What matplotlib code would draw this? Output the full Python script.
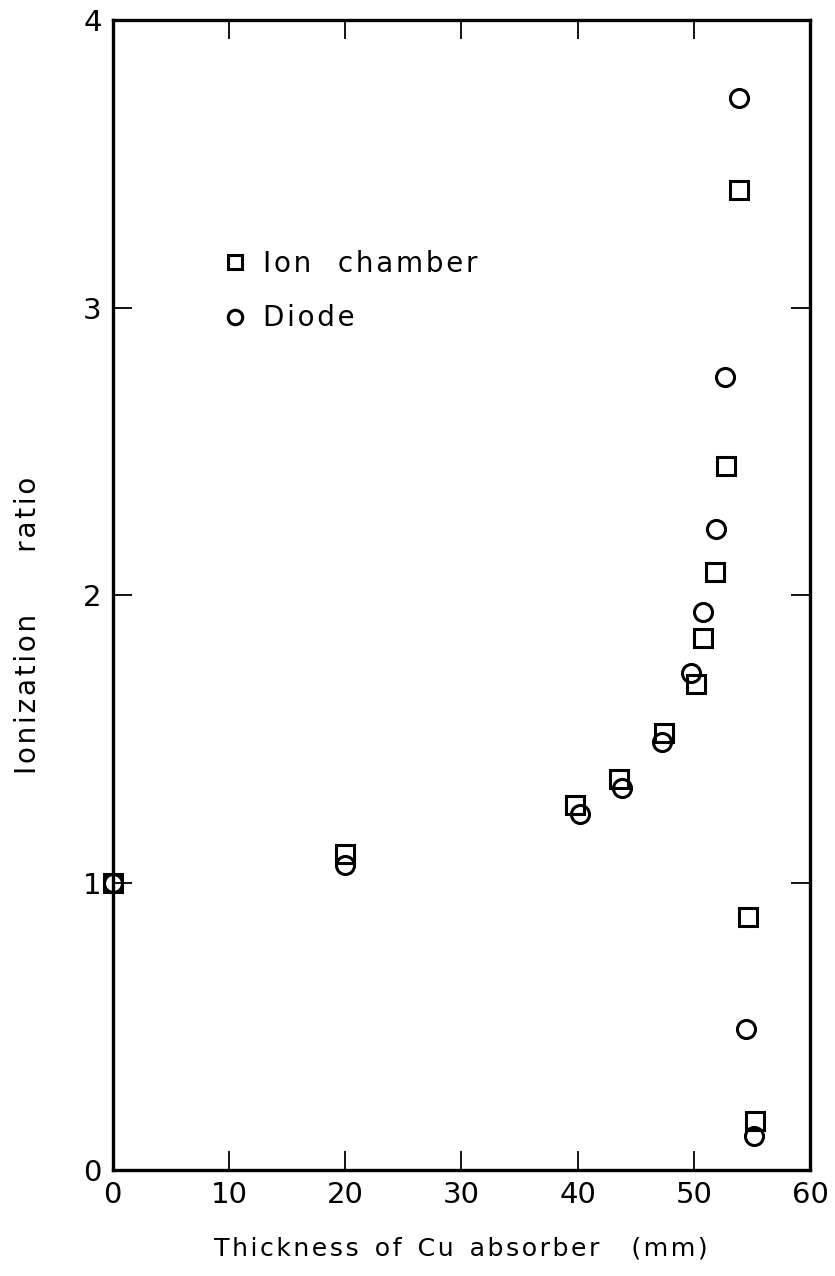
import numpy as np
import matplotlib
matplotlib.use("Agg")
import matplotlib.pyplot as plt

# Ion chamber (squares)
ion_x = [0, 20, 39.8, 43.6, 47.4, 50.2, 50.8, 51.8, 52.8, 53.9, 54.7, 55.3]
ion_y = [1.00, 1.10, 1.27, 1.36, 1.52, 1.69, 1.85, 2.08, 2.45, 3.41, 0.88, 0.17]

# Diode (circles)
diode_x = [0, 20, 40.2, 43.8, 47.3, 49.8, 50.8, 51.9, 52.7, 53.9, 54.5, 55.2]
diode_y = [1.00, 1.06, 1.24, 1.33, 1.49, 1.73, 1.94, 2.23, 2.76, 3.73, 0.49, 0.12]

xticks = [0, 10, 20, 30, 40, 50, 60]
yticks = [0, 1, 2, 3, 4]


def spaced(text, gap='  '):
    # wide letter spacing like the original lettering
    return gap.join('\u200a'.join(w) for w in text.split(' '))


plt.rcParams['font.family'] = ['DejaVu Sans']

fig = plt.figure(figsize=(8.35, 12.76), dpi=100)
ax = fig.add_axes([0.135, 0.083, 0.835, 0.901])

ms = 13
mew = 2.2
ax.plot(ion_x, ion_y, linestyle='none', marker='s', ms=ms, mfc='none',
        mec='black', mew=mew, label=spaced('Ion chamber', '   '), clip_on=False)
ax.plot(diode_x, diode_y, linestyle='none', marker='o', ms=ms, mfc='none',
        mec='black', mew=mew, label=spaced('Diode'), clip_on=False)

ax.set_xlim(0, 60)
ax.set_ylim(0, 4)
ax.set_xticks(xticks)
ax.set_yticks(yticks)
ax.tick_params(direction='in', length=14, width=1.3, top=True, right=True,
               labelsize=21, pad=8)

for s in ax.spines.values():
    s.set_linewidth(2.4)

ax.set_xlabel(spaced('Thickness of Cu absorber') + '    ' + spaced('(mm)'), fontsize=18.2)
ax.xaxis.set_label_coords(0.5, -0.058)
ax.set_ylabel(spaced('Ionization') + '       ' + spaced('ratio'), fontsize=20)
ax.yaxis.set_label_coords(-0.101, 0.474)

leg = ax.legend(loc='upper left', bbox_to_anchor=(0.12, 0.822), frameon=False,
                fontsize=20, handlelength=1.0, handletextpad=0.5,
                labelspacing=0.95, markerscale=0.8)

fig.savefig('out.png', dpi=100)
